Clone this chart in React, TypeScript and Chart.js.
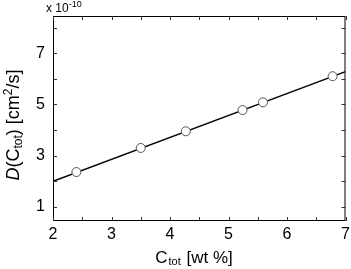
import React, { useEffect, useRef } from "react";
import { Chart, registerables } from "chart.js";

Chart.register(...registerables);

const ctotValues = [2.4, 3.5, 4.27, 5.24, 5.59, 6.78];
const diffValues = [2.36, 3.3, 3.95, 4.78, 5.08, 6.1];
const fitX = [2, 7];
const fitY = [2.0, 6.28];
const xTickLabels = [2, 3, 4, 5, 6, 7];
const xMinorTicks = [2, 2.5, 3, 3.5, 4, 4.5, 5, 5.5, 6, 6.5, 7];
const yTickLabels = [1, 3, 5, 7];
const yMinorTicks = [1, 2, 3, 4, 5, 6, 7, 8];

const FONT = "Liberation Sans, Arial, sans-serif";

const framePlugin = {
  id: "frame",
  afterDatasetsDraw(chart: any) {
    const { ctx, chartArea: a, scales } = chart;
    const xs = scales.x;
    const ys = scales.y;
    ctx.save();
    ctx.strokeStyle = "#000";
    ctx.lineWidth = 1;
    ctx.strokeRect(a.left + 0.5, a.top + 0.5, a.right - a.left - 1, a.bottom - a.top - 1);
    ctx.strokeStyle = "#333";
    const tl = 4;
    ctx.beginPath();
    for (const v of xMinorTicks) {
      const px = Math.round(xs.getPixelForValue(v)) + 0.5;
      ctx.moveTo(px, a.bottom);
      ctx.lineTo(px, a.bottom - tl);
      ctx.moveTo(px, a.top);
      ctx.lineTo(px, a.top + tl);
    }
    for (const v of yMinorTicks) {
      const py = Math.round(ys.getPixelForValue(v)) + 0.5;
      ctx.moveTo(a.left, py);
      ctx.lineTo(a.left + tl, py);
      ctx.moveTo(a.right, py);
      ctx.lineTo(a.right - tl, py);
    }
    ctx.stroke();

    ctx.fillStyle = "#000";
    ctx.font = `16px ${FONT}`;
    ctx.textAlign = "center";
    ctx.textBaseline = "middle";
    for (const v of xTickLabels) {
      ctx.fillText(String(v), xs.getPixelForValue(v), a.bottom + 14);
    }
    ctx.textAlign = "right";
    for (const v of yTickLabels) {
      ctx.fillText(String(v), a.left - 8, ys.getPixelForValue(v));
    }

    // exponent
    ctx.textAlign = "left";
    ctx.textBaseline = "alphabetic";
    ctx.font = `12px ${FONT}`;
    ctx.fillText("x 10", a.left - 7, a.top - 4);
    const w1 = ctx.measureText("x 10").width;
    ctx.font = `9px ${FONT}`;
    ctx.fillText("-10", a.left - 7 + w1, a.top - 9);

    // x title
    const cx = 194;
    const ty = 263;
    const partC = "C";
    const partSub = "tot";
    const partRest = " [wt %]";
    ctx.font = `17px ${FONT}`;
    const wC = ctx.measureText(partC).width;
    const wR = ctx.measureText(partRest).width;
    ctx.font = `11px ${FONT}`;
    const wS = ctx.measureText(partSub).width;
    const x0 = cx - (wC + wS + wR + 2) / 2;
    ctx.font = `17px ${FONT}`;
    ctx.fillText(partC, x0, ty);
    ctx.font = `11px ${FONT}`;
    ctx.fillText(partSub, x0 + wC + 1, ty + 2);
    ctx.font = `17px ${FONT}`;
    ctx.fillText(partRest, x0 + wC + wS + 2, ty);

    // y title rotated
    const cy = 125;
    ctx.translate(19, cy);
    ctx.rotate(-Math.PI / 2);
    const segs: [string, string, number][] = [
      ["D", `italic 18px ${FONT}`, 0],
      ["(C", `18px ${FONT}`, 0],
      ["tot", `12px ${FONT}`, 3],
      [") [cm", `18px ${FONT}`, 0],
      ["2", `12px ${FONT}`, -7],
      ["/s]", `18px ${FONT}`, 0],
    ];
    let total = 0;
    const widths: number[] = [];
    for (const [t, f] of segs) {
      ctx.font = f;
      const w = ctx.measureText(t).width;
      widths.push(w);
      total += w;
    }
    let sx = -total / 2;
    segs.forEach(([t, f, dy], i) => {
      ctx.font = f;
      ctx.fillText(t, sx, dy);
      sx += widths[i];
    });
    ctx.restore();
  },
};

export default function App() {
  const ref = useRef<HTMLCanvasElement>(null);
  useEffect(() => {
    if (!ref.current) return;
    const chart = new Chart(ref.current, {
      type: "scatter",
      data: {
        datasets: [
          {
            type: "line",
            data: fitX.map((x, i) => ({ x, y: fitY[i] })),
            borderColor: "#000",
            borderWidth: 1.5,
            pointRadius: 0,
            order: 2,
          } as any,
          {
            data: ctotValues.map((x, i) => ({ x, y: diffValues[i] })),
            backgroundColor: "#fff",
            borderColor: "#555",
            borderWidth: 1,
            pointRadius: 4.5,
            order: 1,
          },
        ],
      },
      plugins: [framePlugin],
      options: {
        responsive: false,
        animation: false,
        layout: { padding: { left: 53, right: 4, top: 16, bottom: 48 } },
        plugins: { legend: { display: false }, tooltip: { enabled: false } },
        scales: {
          x: { type: "linear", min: 2, max: 7, display: false },
          y: { type: "linear", min: 0.45, max: 8.45, display: false },
        },
      },
    });
    return () => chart.destroy();
  }, []);
  return (
    <div style={{ position: "fixed", left: 0, top: 0, width: 351, height: 269, background: "#fff" }}>
      <canvas ref={ref} width={351} height={269} />
    </div>
  );
}
